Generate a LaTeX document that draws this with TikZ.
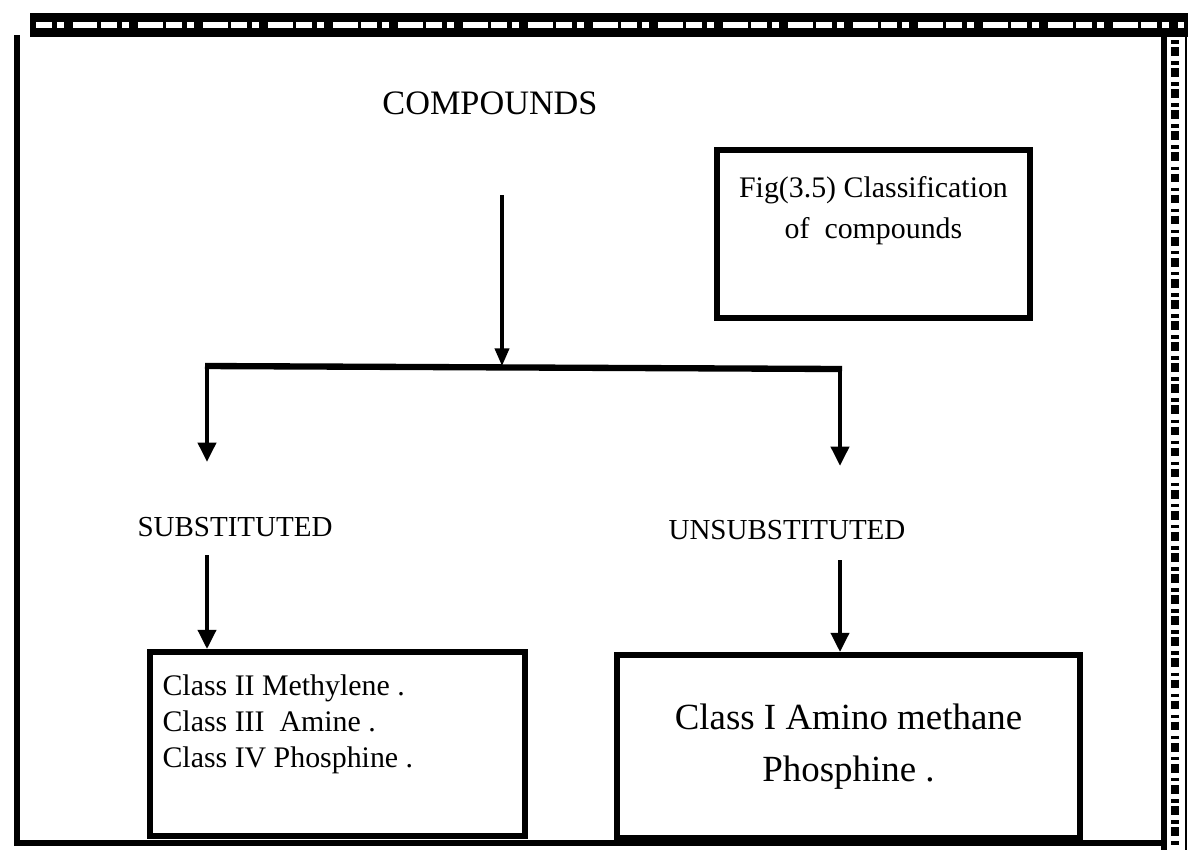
\documentclass[tikz,border=0pt]{standalone}
\usepackage{fontspec}
\setmainfont{Liberation Serif}
\usetikzlibrary{arrows.meta,positioning,calc}
\tikzset{
  cbox/.style={rectangle,draw,line width=3.2pt,inner sep=0pt,
    minimum width=#1},
  cbox/.default=7.5cm,
  head/.style={inner sep=0pt,font=\fontsize{19.5}{23}\selectfont},
  kind/.style={inner sep=0pt,font=\fontsize{16.5}{20}\selectfont},
  body/.style={inner sep=0pt,align=#1,font=\fontsize{17}{20.5}\selectfont},
  body/.default=left,
  arr/.style={-{Triangle[length=11pt,width=10pt]},line width=2.8pt},
  tarr/.style={-{Triangle[length=10pt,width=8pt]},line width=2pt},
}

\begin{document}
\begin{tikzpicture}[x=0.02cm,y=-0.02cm]
  \useasboundingbox (0,0) rectangle (1190,850);

  % ── sheet frame ──────────────────────────────────────────────────────────
  \fill (30,13) rectangle (1188,37);
  \draw[white,line width=3pt,dash pattern=on 9pt off 3pt on 4pt off 5pt on 14pt off 2pt]
    (36,25) -- (1184,25);
  \draw[line width=3.2pt] (17,35) -- (17,843) -- (1165,843);
  \draw[line width=3pt] (1164,32) -- (1164,850);
  \draw[line width=1.2pt] (1186,32) -- (1186,850);
  \draw[line width=5pt,dash pattern=on 2pt off 2pt on 5pt off 3pt] (1175,40) -- (1175,848);

  % ── top of the tree ──────────────────────────────────────────────────────
  \node[head] (cmp) at (490,103) {COMPOUNDS};
  \coordinate (src) at (502,195);
  \coordinate (split) at (502,366);
  \draw[tarr] (src) -- (split);
  \draw[line width=3.6pt] (205,366) -- (842,369);

  \node[cbox=6.26cm,minimum height=3.36cm] (fig) at (873.5,234) {};
  \node[body=center,below=0.58cm of fig.north] (figtxt)
    {Fig(3.5) Classification\\[3pt]of\ \ compounds};

  % ── branches ─────────────────────────────────────────────────────────────
  \node[kind] (sub) at (235,527) {SUBSTITUTED};
  \node[kind] (uns) at (787,530) {UNSUBSTITUTED};
  \coordinate (lfork) at (207,366);
  \coordinate (rfork) at (840,369);
  \coordinate (lend) at (207,462);
  \coordinate (rend) at (840,466);
  \draw[arr] (lfork) -- (lend);
  \draw[arr] (rfork) -- (rend);

  % ── classes ──────────────────────────────────────────────────────────────
  \node[cbox=7.5cm,minimum height=3.68cm] (lbox) at (337.5,744) {};
  \node[cbox=9.26cm,minimum height=3.66cm,align=center,
    font=\fontsize{21}{29.5}\selectfont] (rbox) at (848.5,746.5)
    {Class I Amino methane\\Phosphine .};
  \node[body,below right=0.5cm and 0.3cm of lbox.north west] (ltxt)
    {Class II Methylene .\\Class III\ \ Amine .\\Class IV Phosphine .};

  \coordinate (l0) at (207,555);
  \coordinate (r0) at (840,560);
  \draw[arr] (l0) -- (lbox.north -| l0);
  \draw[arr] (r0) -- (rbox.north -| r0);

\end{tikzpicture}
\end{document}
